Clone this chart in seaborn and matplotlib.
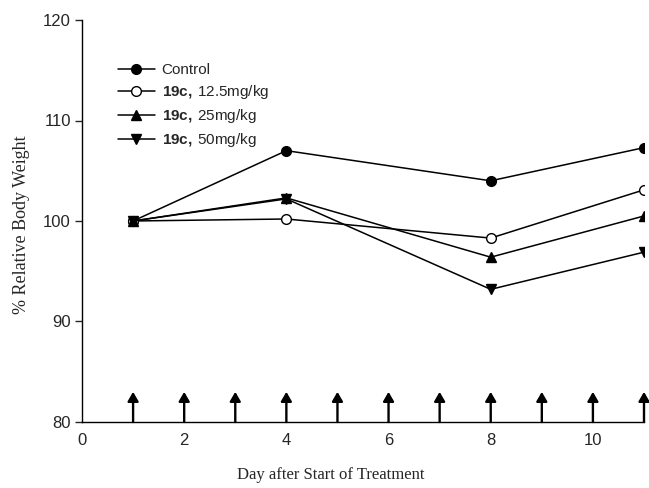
import matplotlib
matplotlib.use("Agg")
import matplotlib.pyplot as plt
from matplotlib.lines import Line2D
import seaborn as sns
import pandas as pd

days = [1, 4, 8, 11]
control = [100.0, 107.0, 104.0, 107.3]
dose_12_5 = [100.0, 100.2, 98.3, 103.1]
dose_25 = [100.0, 102.3, 96.4, 100.5]
dose_50 = [100.0, 102.2, 93.2, 96.9]
treatment_days = [1, 2, 3, 4, 5, 6, 7, 8, 9, 10, 11]
series_names = ["Control", "12.5", "25", "50"]
legend_labels = ["Control", r"$\mathbf{19c,}\,$12.5mg/kg", r"$\mathbf{19c,}\,$25mg/kg", r"$\mathbf{19c,}\,$50mg/kg"]
yticks = [80, 90, 100, 110, 120]
xticks = [0, 2, 4, 6, 8, 10]

sns.set_style("white")
plt.rcParams["font.family"] = ["Liberation Sans", "DejaVu Sans"]
plt.rcParams["mathtext.fontset"] = "custom"
plt.rcParams["mathtext.bf"] = "Liberation Sans:bold"
plt.rcParams["mathtext.rm"] = "Liberation Sans"

fig = plt.figure(figsize=(6.49, 4.88), dpi=100)
ax = fig.add_axes([82/649, 1-422/488, 562/649, 402/488])

values = [control, dose_12_5, dose_25, dose_50]
markers = ["o", "o", "^", "v"]
faces = ["black", "white", "black", "black"]
sizes = [7, 7, 7.5, 7.5]
for name, vals, m, fc, ms in zip(series_names, values, markers, faces, sizes):
    df = pd.DataFrame({"day": days, "weight": vals})
    sns.lineplot(data=df, x="day", y="weight", ax=ax, color="black", lw=1.1,
                 marker=m, markersize=ms, markerfacecolor=fc, markeredgecolor="black",
                 markeredgewidth=1.0, zorder=3)

for d in treatment_days:
    ax.annotate("", xy=(d, 83.0), xytext=(d, 80.0),
                arrowprops=dict(arrowstyle="-|>,head_length=0.55,head_width=0.32",
                                color="black", lw=1.7, shrinkA=0, shrinkB=0),
                annotation_clip=False)

ax.set_xlim(0, 11)
ax.set_ylim(80, 120)
ax.set_xticks(xticks)
ax.set_yticks(yticks)
ax.tick_params(axis="y", direction="out", length=5, width=1, labelsize=12, pad=3, left=True)
ax.tick_params(axis="x", length=0, labelsize=12, pad=8)
for s in ["top", "right"]:
    ax.spines[s].set_visible(False)
for s in ["left", "bottom"]:
    ax.spines[s].set_color("black")
    ax.spines[s].set_linewidth(1.0)

ax.set_xlabel("Day after Start of Treatment", fontfamily="Liberation Serif", fontsize=12)
ax.set_ylabel("% Relative Body Weight", fontfamily="Liberation Serif", fontsize=13)
ax.xaxis.set_label_coords(0.443, -0.112)
ax.yaxis.set_label_coords(-0.092, 0.49)

handles = []
for m, fc, ms in zip(markers, faces, sizes):
    handles.append(Line2D([], [], color="black", lw=1.1, marker=m, markersize=ms,
                          markerfacecolor=fc, markeredgecolor="black"))
ax.legend(handles, legend_labels, loc="upper left", bbox_to_anchor=(0.064, 0.893),
          frameon=False, borderpad=0, borderaxespad=0, handlelength=2.4,
          handletextpad=0.45, labelspacing=0.4, fontsize=11)

fig.savefig("out.png", dpi=100)
